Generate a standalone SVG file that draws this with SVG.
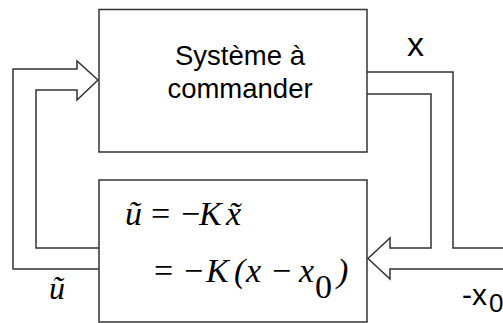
<svg xmlns="http://www.w3.org/2000/svg" width="503" height="323" viewBox="0 0 503 323">
  <style>
    .box { fill: #ffffff; stroke: #333333; stroke-width: 1.5; }
    .wire { fill: none; stroke: #333333; stroke-width: 1.5; stroke-linejoin: miter; }
    .sans { font-family: "Liberation Sans", Arial, sans-serif; fill: #000000; }
    .math { font-family: "Liberation Serif", "Times New Roman", serif; font-style: italic; fill: #000000; }
    .num { font-family: "Liberation Serif", "Times New Roman", serif; font-style: normal; fill: #000000; }
  </style>
  <rect width="503" height="323" fill="#ffffff"/>

  <g id="connectors">
    <!-- hollow feedback arrow from controller back to the plant input -->
    <polyline class="wire" points="99,269 13,269 13,69 77,69 77,61 98,80 77,100 77,90 36,90 36,248 99,248"/>
    <!-- hollow arrow from plant output x, joined by -x0, into the controller -->
    <polyline class="wire" points="367,72 453,72 453,248 503,248"/>
    <polyline class="wire" points="367,94 431,94 431,248 390,248 390,238 368,258.5 390,279 390,269 503,269"/>
  </g>

  <g id="plant">
    <rect class="box" x="99" y="9.5" width="268" height="142.5"/>
    <text class="sans" font-size="27.5" text-anchor="middle" x="240" y="65">Système à</text>
    <text class="sans" font-size="27.5" text-anchor="middle" x="240" y="98">commander</text>
  </g>

  <g id="controller">
    <rect class="box" x="99" y="180" width="268" height="142"/>
    <text class="math" font-size="34" y="225">
      <tspan x="125">ũ</tspan><tspan class="num" x="151">=</tspan><tspan class="num" x="181">−</tspan><tspan x="199">K</tspan><tspan x="226">x̃</tspan>
    </text>
    <text class="math" font-size="34" y="282">
      <tspan class="num" x="154">=</tspan><tspan class="num" x="184">−</tspan><tspan x="206">K</tspan><tspan x="234">(</tspan><tspan x="246">x</tspan><tspan class="num" x="272">−</tspan><tspan x="299">x</tspan><tspan class="num" font-size="34" x="315" y="298">0</tspan><tspan x="337" y="282">)</tspan>
    </text>
  </g>

  <g id="labels">
    <text class="sans" font-size="34" x="407" y="56">x</text>
    <text class="math" font-size="32" x="49" y="299">ũ</text>
    <text class="sans" font-size="30" x="462" y="305">-x</text>
    <text class="sans" font-size="26" x="489" y="312">0</text>
  </g>
</svg>
